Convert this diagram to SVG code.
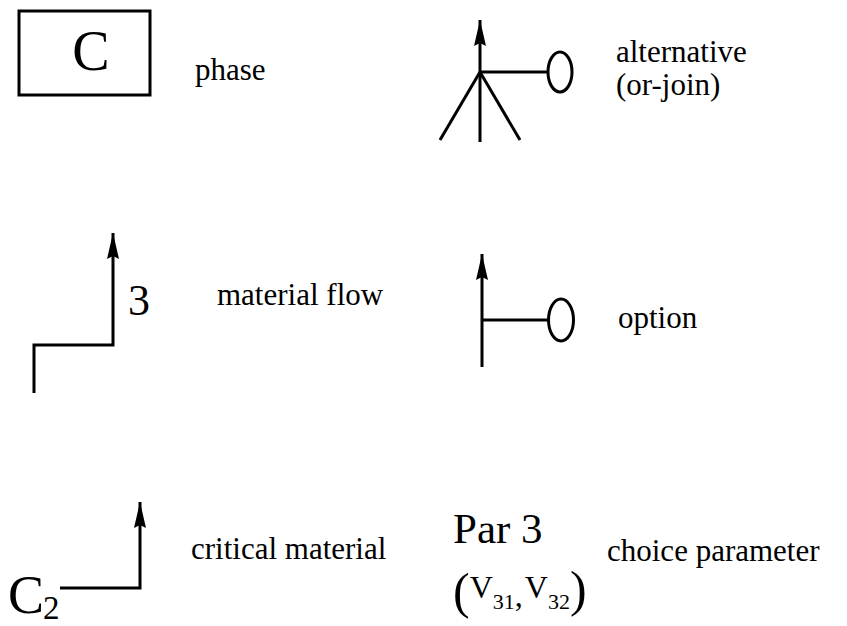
<svg xmlns="http://www.w3.org/2000/svg" width="847" height="626" viewBox="0 0 847 626">
<defs>
<style>
.ln{fill:none;stroke:#000;stroke-width:3;stroke-linecap:butt;stroke-linejoin:miter}
.lb{font-family:"Liberation Serif","Times New Roman",serif;font-size:31px;fill:#000}
.big{font-family:"Liberation Serif","Times New Roman",serif;fill:#000}
</style>
<marker id="up" viewBox="0 0 26 12" refX="26" refY="6" markerWidth="26" markerHeight="12" markerUnits="userSpaceOnUse" orient="auto">
<path d="M0,0 L26,6 L0,12 L3,6 Z" fill="#000"/>
</marker>
</defs>
<rect width="847" height="626" fill="#fff"/>

<g id="phase">
<rect x="19" y="11" width="131" height="84" class="ln"/>
<text x="91" y="70" class="big" font-size="56" text-anchor="middle">C</text>
<text x="195" y="80" class="lb">phase</text>
</g>

<g id="alternative">
<line x1="480" y1="142" x2="480" y2="72" class="ln"/>
<line x1="440" y1="140" x2="480" y2="72" class="ln"/>
<line x1="520" y1="140" x2="480" y2="72" class="ln"/>
<ellipse cx="560" cy="72" rx="12" ry="20" class="ln"/>
<text x="616" y="62" class="lb">alternative</text>
<text x="616" y="95" class="lb">(or-join)</text>
</g>

<g id="material-flow">
<text x="128" y="315" class="big" font-size="44">3</text>
<text x="217" y="305" class="lb">material flow</text>
</g>

<g id="option">
<line x1="482" y1="320" x2="548" y2="320" class="ln"/>
<ellipse cx="561" cy="320" rx="12.5" ry="21" class="ln"/>
<text x="618" y="328" class="lb">option</text>
</g>

<g id="critical-material">
<text x="8" y="613" class="big" font-size="54">C</text>
<text x="43" y="619" class="big" font-size="33">2</text>
<text x="191" y="559" class="lb">critical material</text>
</g>

<g id="choice-parameter">
<text x="453" y="543" class="big" font-size="43">Par 3</text>
<text x="453" y="608" class="big" font-size="50">(<tspan font-size="32" dy="-10">V</tspan><tspan font-size="22" dy="11">31</tspan><tspan font-size="32" dy="-3">,</tspan><tspan font-size="32" dy="-8" dx="2">V</tspan><tspan font-size="22" dy="11">32</tspan><tspan font-size="50" dy="-3">)</tspan></text>
<text x="607" y="561" class="lb">choice parameter</text>
</g>

<g id="connectors">
<line x1="480" y1="72" x2="480" y2="20" class="ln" marker-end="url(#up)"/>
<line x1="480" y1="72" x2="548" y2="72" class="ln"/>
<polyline points="34,393 34,345 113,345 113,233" class="ln" marker-end="url(#up)"/>
<line x1="482" y1="367" x2="482" y2="254" class="ln" marker-end="url(#up)"/>
<polyline points="60,588 140,588 140,502" class="ln" marker-end="url(#up)"/>
</g>
</svg>
